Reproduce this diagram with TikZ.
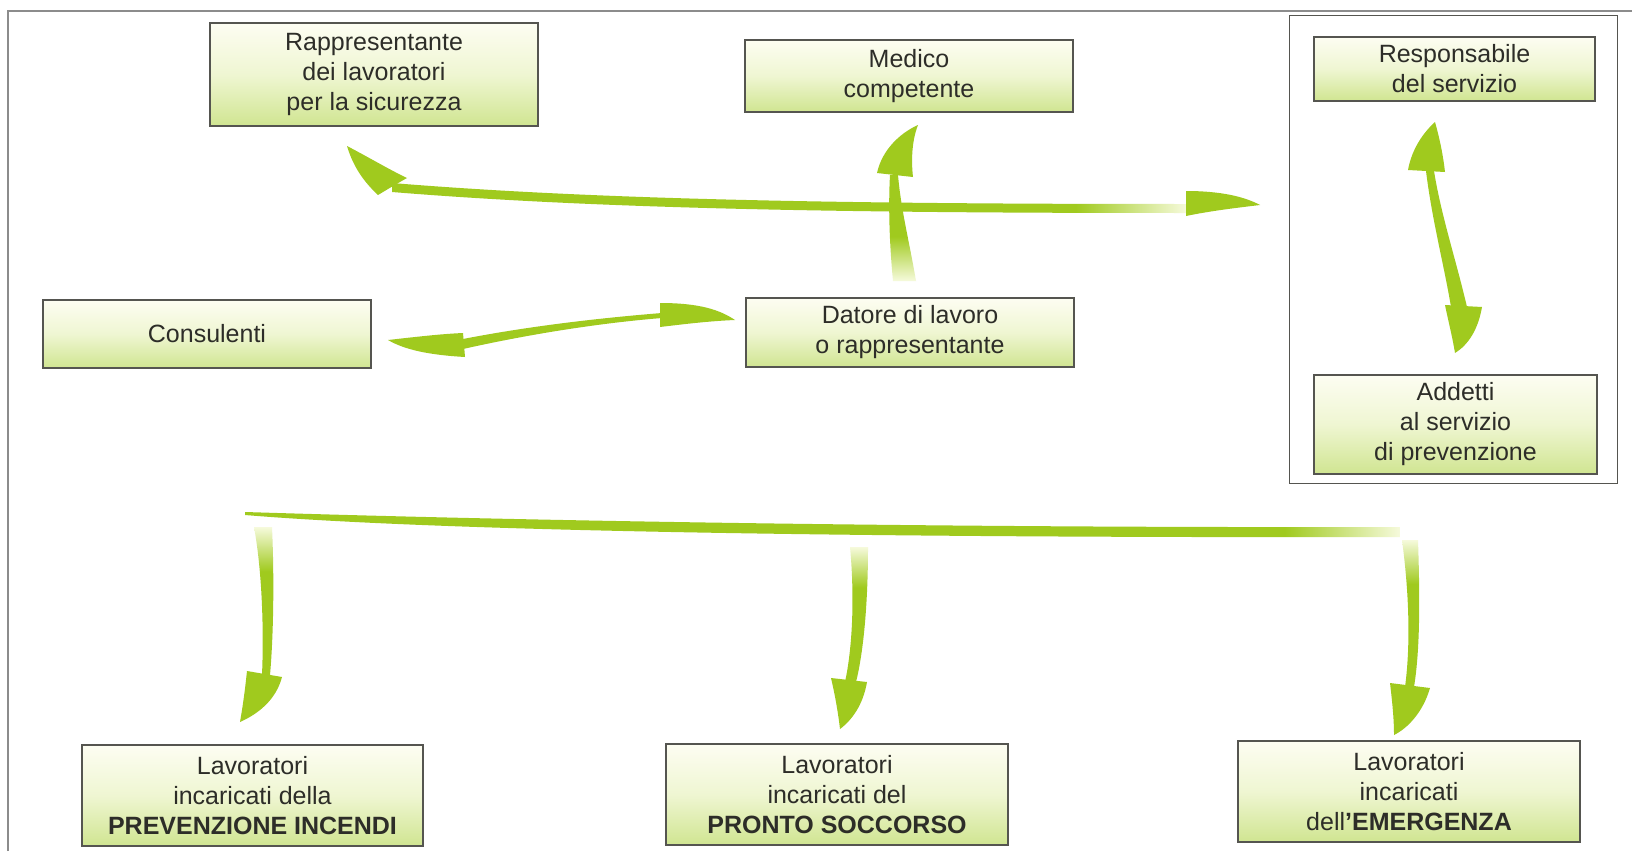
\documentclass[tikz,border=0pt]{standalone}
\usepackage{fontspec}
\setmainfont{Liberation Sans}
\definecolor{ag}{RGB}{160,202,30}
\definecolor{agpale}{RGB}{246,250,220}
\definecolor{boxtop}{RGB}{253,253,242}
\definecolor{boxmid}{RGB}{239,246,210}
\definecolor{boxbot}{RGB}{208,229,145}
\definecolor{boxline}{RGB}{85,85,80}
\definecolor{txt}{RGB}{45,45,40}
\definecolor{frame}{RGB}{140,140,140}
\pgfdeclarehorizontalshading{fadeA}{100bp}{color(0bp)=(ag); color(68bp)=(ag); color(75bp)=(agpale); color(100bp)=(agpale)}
\pgfdeclarehorizontalshading{fadeE}{100bp}{color(0bp)=(ag); color(70bp)=(ag); color(75bp)=(agpale); color(100bp)=(agpale)}
\pgfdeclareverticalshading{fadeTop}{100bp}{color(0bp)=(ag); color(60bp)=(ag); color(75bp)=(agpale); color(100bp)=(agpale)}
\pgfdeclareverticalshading{fadeBot}{100bp}{color(0bp)=(agpale); color(25bp)=(agpale); color(46bp)=(ag); color(100bp)=(ag)}
\tikzset{
  box/.style={draw=boxline, line width=1.2pt, top color=boxtop, bottom color=boxbot, middle color=boxmid,
    inner sep=0pt, align=center, text=txt, font=\fontsize{25}{30}\selectfont},
  head/.style={fill=ag},
  shaft/.style={fill=ag},
}
\begin{document}
\begin{tikzpicture}[x=1pt,y=-1pt]
\useasboundingbox (0,0) rectangle (1632,851);
\fill[white] (0,0) rectangle (1632,851);
% outer frame (top and left)
\draw[frame, line width=1.6pt] (8,851) -- (8,11) -- (1632,11);
% container on the right
\draw[boxline, line width=1pt] (1289,16) rectangle (1617,483);

% boxes
\node[box, minimum width=328pt, minimum height=103pt] (rls) at (374,74.5) {Rappresentante\\dei lavoratori\\per la sicurezza};
\node[box, minimum width=328pt, minimum height=72pt] (med) at (909,76) {Medico\\competente};
\node[box, minimum width=281pt, minimum height=64pt] (resp) at (1454.5,69) {Responsabile\\del servizio};
\node[box, minimum width=328pt, minimum height=68pt] (cons) at (207,334) {Consulenti};
\node[box, minimum width=328pt, minimum height=69pt] (dat) at (910,332.5) {Datore di lavoro\\o rappresentante};
\node[box, minimum width=283pt, minimum height=99pt] (add) at (1455.5,424.5) {Addetti\\al servizio\\di prevenzione};
\node[box, minimum width=341pt, minimum height=101pt] (inc) at (252.5,795.5) {Lavoratori\\incaricati della\\\textbf{PREVENZIONE INCENDI}};
\node[box, minimum width=342pt, minimum height=101pt] (ps) at (837,794.5) {Lavoratori\\incaricati del\\\textbf{PRONTO SOCCORSO}};
\node[box, minimum width=342pt, minimum height=101pt] (em) at (1409,791.5) {Lavoratori\\incaricati\\dell\textbf{’EMERGENZA}};

% Arrow A: big horizontal double arrow (to RLS and to Responsabile)
\shade[shading=fadeA] (392,183) .. controls (600,200) and (850,204) .. (1187,204)
  -- (1187,213) .. controls (850,213) and (600,209) .. (392,192) -- cycle;
\fill[head] (347,146) .. controls (370,158) and (390,170) .. (407,178)
  .. controls (398,183) and (388,189) .. (378,195)
  .. controls (363,181) and (353,166) .. (347,146) -- cycle;
\fill[head] (1186,191) .. controls (1222,191) and (1245,197) .. (1260,205)
  .. controls (1235,208) and (1210,211) .. (1186,216) -- cycle;

% Arrow B: Datore -> Medico
\shade[shading=fadeBot] (890,175) .. controls (888,210) and (890,250) .. (893,281)
  -- (916,281) .. controls (909,240) and (901,210) .. (898,175) -- cycle;
\fill[head] (877,173) .. controls (882,150) and (900,133) .. (918,125)
  .. controls (912,140) and (911,160) .. (913,177) -- cycle;

% Arrow C: Consulenti <-> Datore
\fill[shaft] (463,339) .. controls (530,326) and (600,318) .. (662,313)
  -- (662,318) .. controls (600,323) and (530,334) .. (463,349) -- cycle;
\fill[head] (388,340) .. controls (415,337) and (440,334) .. (463,333)
  -- (465,357) .. controls (430,355) and (405,350) .. (388,340) -- cycle;
\fill[head] (660,303) .. controls (700,303) and (720,310) .. (735,320)
  .. controls (710,321) and (685,324) .. (660,327) -- cycle;

% Arrow D: Responsabile <-> Addetti
\fill[shaft] (1426,171) .. controls (1432,220) and (1444,265) .. (1451,307)
  -- (1467,307) .. controls (1456,260) and (1441,215) .. (1434,171) -- cycle;
\fill[head] (1408,170) .. controls (1412,148) and (1424,132) .. (1435,122)
  .. controls (1440,140) and (1443,155) .. (1445,172) -- cycle;
\fill[head] (1445,305) -- (1482,307) .. controls (1478,330) and (1468,345) .. (1455,353)
  .. controls (1452,335) and (1448,320) .. (1445,305) -- cycle;

% Arrow E: bottom distribution bar
\shade[shading=fadeE] (245,512) .. controls (500,520) and (900,528) .. (1400,527)
  -- (1400,537) .. controls (900,538) and (450,532) .. (245,515) -- cycle;
% branch to PREVENZIONE INCENDI
\shade[shading=fadeTop] (254,527) .. controls (262,570) and (264,630) .. (262,675)
  -- (270,675) .. controls (274,630) and (274,570) .. (272,527) -- cycle;
\fill[head] (247,671) -- (282,677) .. controls (276,700) and (258,714) .. (240,722)
  .. controls (243,705) and (245,690) .. (247,671) -- cycle;
% branch to PRONTO SOCCORSO
\shade[shading=fadeTop] (850,547) .. controls (855,600) and (852,650) .. (845,682)
  -- (856,682) .. controls (864,650) and (868,600) .. (868,547) -- cycle;
\fill[head] (831,678) -- (867,682) .. controls (863,705) and (852,720) .. (840,729)
  .. controls (838,712) and (835,695) .. (831,678) -- cycle;
% branch to EMERGENZA
\shade[shading=fadeTop] (1402,540) .. controls (1410,600) and (1410,650) .. (1405,687)
  -- (1414,687) .. controls (1420,650) and (1420,600) .. (1418,540) -- cycle;
\fill[head] (1390,683) -- (1430,688) .. controls (1423,712) and (1408,728) .. (1394,735)
  .. controls (1394,718) and (1392,700) .. (1390,683) -- cycle;
\end{tikzpicture}
\end{document}
